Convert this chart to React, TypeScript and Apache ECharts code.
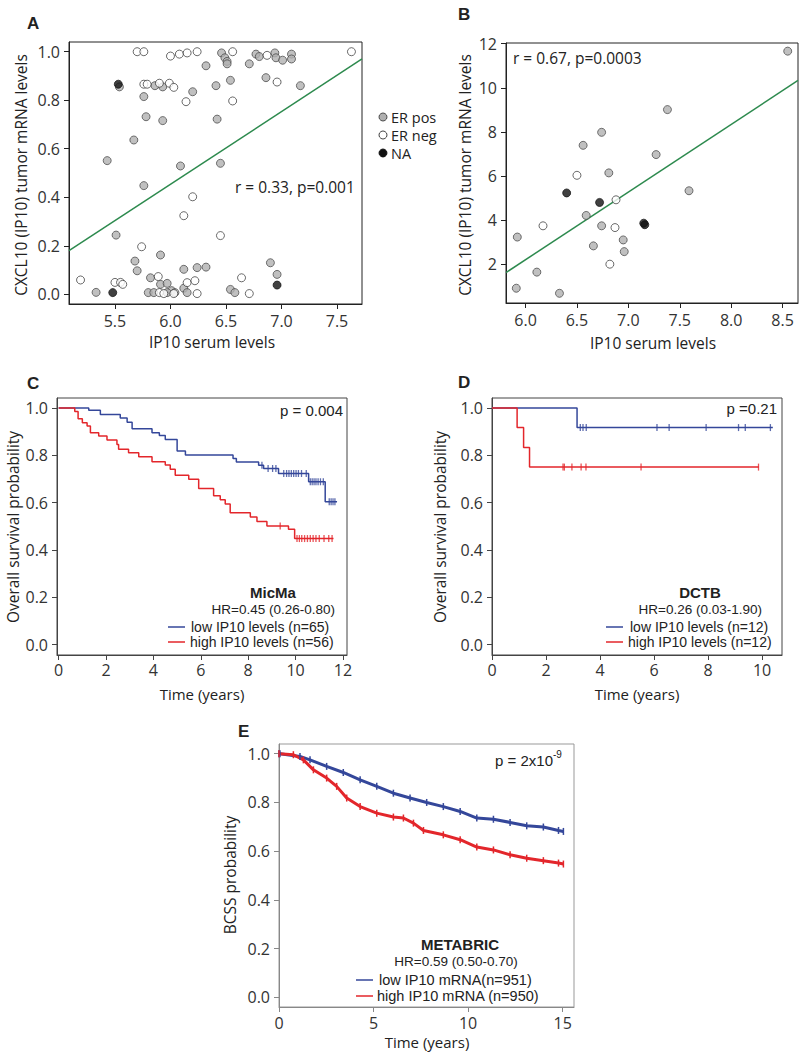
import React, { useEffect, useRef } from "react";
import * as echarts from "echarts";

// ---------- Panel A data (IP10 serum vs CXCL10 mRNA, MicMa) ----------
const aErPos: number[][] = [
  [6.32, 0.942], [6.46, 0.995], [6.49, 0.975], [6.51, 0.96], [6.51, 0.95], [6.71, 0.95], [6.77, 0.99], [6.8, 0.98],
  [6.94, 0.995], [6.95, 0.975], [7.01, 0.965], [7.09, 0.99], [7.09, 0.97],
  [5.54, 0.855], [5.86, 0.86], [5.93, 0.855], [6.2, 0.835], [6.41, 0.86], [6.54, 0.882], [6.86, 0.893], [7.17, 0.86],
  [5.76, 0.815], [5.78, 0.732], [5.93, 0.716], [6.42, 0.722], [5.67, 0.636], [5.43, 0.551], [6.09, 0.529], [6.45, 0.54],
  [5.76, 0.448], [5.51, 0.244], [5.91, 0.162], [5.68, 0.137], [5.7, 0.097], [6.12, 0.103], [6.24, 0.11], [6.32, 0.112],
  [6.9, 0.13], [6.96, 0.082], [5.82, 0.068], [5.91, 0.041], [5.97, 0.045], [6.12, 0.025], [6.01, 0.015], [5.33, 0.008],
  [5.8, 0.007], [5.85, 0.007], [5.97, 0.007], [6.04, 0.007], [6.15, 0.007], [6.54, 0.02], [6.58, 0.007],
];
const aErNeg: number[][] = [
  [5.7, 1.0], [5.76, 1.0], [6.0, 0.982], [6.08, 0.99], [6.15, 0.995], [6.24, 1.0], [6.56, 1.0], [6.87, 0.985], [7.63, 1.0],
  [5.76, 0.866], [5.79, 0.866], [5.9, 0.87], [5.99, 0.87], [6.03, 0.853], [6.96, 0.875], [6.14, 0.794], [6.56, 0.797],
  [6.2, 0.402], [6.12, 0.324], [6.45, 0.242], [5.74, 0.196], [5.19, 0.059], [6.64, 0.068], [5.5, 0.049], [5.55, 0.049],
  [5.57, 0.041], [5.89, 0.073], [6.15, 0.048], [6.22, 0.056], [5.9, 0.007], [5.94, 0.003], [6.03, 0.003], [6.24, 0.003],
  [6.71, 0.003],
];
const aNA: number[][] = [[5.53, 0.866], [6.96, 0.038], [5.48, 0.007]];
const aFit: number[][] = [[5.086, 0.18], [7.725, 0.97]];
const aTicksX = [5.5, 6.0, 6.5, 7.0, 7.5];
const probTicks = [0, 0.2, 0.4, 0.6, 0.8, 1.0];

// ---------- Panel B data (DCTB) ----------
const bErPos: number[][] = [
  [8.55, 11.66], [7.38, 9.01], [6.74, 7.98], [6.56, 7.39], [7.27, 6.97], [6.81, 6.14], [7.59, 5.33], [6.59, 4.21],
  [6.74, 3.74], [5.92, 3.23], [6.95, 3.1], [6.66, 2.83], [6.96, 2.57], [6.11, 1.64], [5.91, 0.91], [6.33, 0.68],
];
const bErNeg: number[][] = [[6.5, 6.03], [6.88, 4.92], [6.17, 3.74], [6.87, 3.66], [6.82, 2.0]];
const bNA: number[][] = [[6.4, 5.23], [6.72, 4.8], [7.15, 3.86], [7.16, 3.79]];
const bFit: number[][] = [[5.81, 1.62], [8.65, 10.33]];
const bTicksX = [6.0, 6.5, 7.0, 7.5, 8.0, 8.5];
const bTicksY = [2, 4, 6, 8, 10, 12];

// ---------- Panel C (MicMa KM) ----------
const cLow: number[][] = [
  [0, 1], [1.27, 0.99], [1.76, 0.972], [2.6, 0.958], [2.89, 0.94], [3.1, 0.912], [3.94, 0.895], [4.25, 0.884],
  [4.5, 0.867], [5.0, 0.818], [5.35, 0.801], [7.36, 0.786], [7.5, 0.772], [8.44, 0.758], [8.65, 0.744], [9.28, 0.723],
  [10.55, 0.688], [11.25, 0.604], [11.75, 0.604],
];
const cLowCens: number[][] = [
  [8.58, 0.758], [8.84, 0.744], [9.03, 0.744], [9.17, 0.744], [9.5, 0.723], [9.62, 0.723], [9.72, 0.723], [9.82, 0.723],
  [9.92, 0.723], [10.02, 0.723], [10.12, 0.723], [10.25, 0.723], [10.45, 0.723], [10.62, 0.688], [10.7, 0.688],
  [10.78, 0.688], [10.86, 0.688], [10.95, 0.688], [11.05, 0.688], [11.17, 0.688], [11.42, 0.604], [11.5, 0.604],
  [11.58, 0.604], [11.66, 0.604],
];
const cHigh: number[][] = [
  [0, 1], [0.68, 0.985], [0.82, 0.954], [1.0, 0.937], [1.2, 0.924], [1.34, 0.895], [1.69, 0.881], [2.04, 0.864],
  [2.46, 0.846], [2.53, 0.825], [2.95, 0.811], [3.38, 0.794], [3.94, 0.773], [4.5, 0.759], [4.71, 0.741], [4.92, 0.716],
  [5.49, 0.699], [5.91, 0.66], [6.54, 0.629], [6.82, 0.612], [7.03, 0.594], [7.24, 0.557], [8.09, 0.539], [8.37, 0.52],
  [8.79, 0.501], [9.7, 0.487], [9.96, 0.448], [11.6, 0.448],
];
const cHighCens: number[][] = [
  [9.35, 0.501], [10.06, 0.448], [10.16, 0.448], [10.26, 0.448], [10.38, 0.448], [10.5, 0.448], [10.62, 0.448],
  [10.74, 0.448], [10.86, 0.448], [11.0, 0.448], [11.2, 0.448], [11.4, 0.448], [11.54, 0.448],
];
const cTicksX = [0, 2, 4, 6, 8, 10, 12];

// ---------- Panel D (DCTB KM) ----------
const dLow: number[][] = [[0, 1], [3.15, 0.917], [10.4, 0.917]];
const dLowCens: number[][] = [
  [3.27, 0.917], [3.37, 0.917], [3.49, 0.917], [6.11, 0.917], [6.56, 0.917], [7.93, 0.917], [9.13, 0.917],
  [9.38, 0.917], [10.31, 0.917],
];
const dHigh: number[][] = [[0, 1], [0.93, 0.917], [1.17, 0.833], [1.39, 0.75], [9.88, 0.75]];
const dHighCens: number[][] = [
  [2.63, 0.75], [2.68, 0.75], [2.96, 0.75], [3.3, 0.75], [3.48, 0.75], [5.52, 0.75], [9.87, 0.75],
];
const dTicksX = [0, 2, 4, 6, 8, 10];

// ---------- Panel E (METABRIC BCSS) ----------
const eLow: number[][] = [
  [0, 1], [0.05, 1.0], [1.11, 0.989], [1.64, 0.975], [2.52, 0.948], [3.4, 0.923], [4.29, 0.893], [5.17, 0.866],
  [6.05, 0.838], [6.93, 0.818], [7.81, 0.8], [8.69, 0.783], [9.58, 0.763], [10.46, 0.736], [11.34, 0.731],
  [12.22, 0.718], [13.1, 0.704], [13.98, 0.699], [14.78, 0.685], [15.04, 0.681],
];
const eHigh: number[][] = [
  [0, 1], [0.76, 0.996], [1.29, 0.975], [1.82, 0.934], [2.52, 0.9], [3.05, 0.866], [3.58, 0.818], [4.29, 0.783],
  [5.17, 0.756], [6.05, 0.74], [6.58, 0.736], [7.11, 0.715], [7.64, 0.685], [8.69, 0.667], [9.58, 0.647],
  [10.46, 0.617], [11.34, 0.605], [12.22, 0.585], [13.1, 0.571], [13.98, 0.561], [14.78, 0.551], [15.04, 0.547],
];
const eTicksX = [0, 5, 10, 15];

const OPEN = '"Open Sans", "DejaVu Sans", sans-serif';
const ARIAL = '"Liberation Sans", Arial, sans-serif';
const BLUE = "#34479a";
const RED = "#e3262b";
const GREEN = "#2d8a4e";
const INK = "#222";

function axis(gi: number, min: number, max: number, ticks: number[], fmt: (v: number) => string, color: string, margin = 9) {
  return {
    type: "value", gridIndex: gi, min, max,
    axisLine: { show: true, onZero: false, lineStyle: { color, width: 1 } },
    axisTick: { show: true, customValues: ticks, length: 5, lineStyle: { color } },
    axisLabel: { customValues: ticks, formatter: fmt, margin, color: "#333", fontSize: 16, fontFamily: OPEN },
    splitLine: { show: false },
  };
}
const f1 = (v: number) => v.toFixed(1);
const f0 = (v: number) => String(Math.round(v));

function scat(name: string, gi: number, data: number[][], fill: string, stroke: string) {
  return {
    type: "scatter", name, xAxisIndex: gi, yAxisIndex: gi, data, symbol: "circle", symbolSize: 8,
    itemStyle: { color: fill, borderColor: stroke, borderWidth: 0.9 }, z: 3,
  };
}
function km(gi: number, data: number[][], color: string) {
  return {
    type: "line", xAxisIndex: gi, yAxisIndex: gi, data, step: "end", showSymbol: false,
    lineStyle: { color, width: 1.5 }, z: 3,
  };
}
function cens(gi: number, data: number[][], color: string) {
  return {
    type: "scatter", xAxisIndex: gi, yAxisIndex: gi, data, symbol: "rect", symbolSize: [1.3, 7],
    itemStyle: { color }, z: 4,
  };
}
function eLine(data: number[][], color: string) {
  return {
    type: "line", xAxisIndex: 4, yAxisIndex: 4, data, smooth: false, showSymbol: true, symbol: "rect",
    symbolSize: [1.5, 7], itemStyle: { color }, lineStyle: { color, width: 3 }, z: 3,
  };
}

function txt(text: string, x: number, y: number, size: number, opts: any = {}) {
  return {
    type: "text", x, y, rotation: opts.rotation || 0, z: 10,
    style: {
      text, fill: opts.fill || INK, font: `${opts.bold ? "bold " : ""}${size}px ${opts.family || OPEN}`,
      align: opts.align || "left", verticalAlign: "middle",
    },
  };
}
function keyLine(x1: number, x2: number, y: number, color: string) {
  return { type: "line", shape: { x1, y1: y, x2, y2: y }, style: { stroke: color, lineWidth: 1.5 }, z: 10 };
}

export default function App() {
  const ref = useRef<HTMLDivElement>(null);
  useEffect(() => {
    if (!ref.current) return;
    const chart = echarts.init(ref.current, undefined, { renderer: "svg" });
    const option: any = {
      animation: false,
      backgroundColor: "#fff",
      grid: [
        { left: 69, top: 42, width: 293, height: 262, show: true, borderColor: "#222", borderWidth: 1 },
        { left: 506, top: 43, width: 292, height: 260, show: true, borderColor: "#222", borderWidth: 1 },
        { left: 57, top: 398, width: 290, height: 257, show: true, borderColor: "#444", borderWidth: 1 },
        { left: 492, top: 398, width: 290, height: 257, show: true, borderColor: "#444", borderWidth: 1 },
        { left: 279, top: 744, width: 295, height: 263, show: true, borderColor: "#999", borderWidth: 1 },
      ],
      xAxis: [
        axis(0, 5.086, 7.725, aTicksX, f1, "#222"),
        axis(1, 5.81, 8.65, bTicksX, f1, "#222"),
        axis(2, -0.07, 12.17, cTicksX, f0, "#444", 7),
        axis(3, 0, 10.74, dTicksX, f0, "#444", 7),
        axis(4, 0, 15.6, eTicksX, f0, "#888", 8),
      ],
      yAxis: [
        axis(0, -0.04, 1.04, probTicks, f1, "#222"),
        axis(1, 0.24, 12.03, bTicksY, f0, "#222"),
        axis(2, -0.044, 1.042, probTicks, f1, "#444"),
        axis(3, -0.044, 1.042, probTicks, f1, "#444"),
        axis(4, -0.04, 1.04, probTicks, f1, "#888"),
      ],
      series: [
        { type: "line", xAxisIndex: 0, yAxisIndex: 0, data: aFit, showSymbol: false, lineStyle: { color: GREEN, width: 1.5 }, z: 2 },
        scat("ER pos", 0, aErPos, "#b0b0b0", "#404040"),
        scat("ER neg", 0, aErNeg, "#ffffff", "#303030"),
        scat("NA", 0, aNA, "#111111", "#111111"),
        { type: "line", xAxisIndex: 1, yAxisIndex: 1, data: bFit, showSymbol: false, lineStyle: { color: GREEN, width: 1.5 }, z: 2 },
        scat("ER pos", 1, bErPos, "#b0b0b0", "#404040"),
        scat("ER neg", 1, bErNeg, "#ffffff", "#303030"),
        scat("NA", 1, bNA, "#111111", "#111111"),
        km(2, cLow, BLUE), km(2, cHigh, RED), cens(2, cLowCens, BLUE), cens(2, cHighCens, RED),
        km(3, dLow, BLUE), km(3, dHigh, RED), cens(3, dLowCens, BLUE), cens(3, dHighCens, RED),
        eLine(eLow, BLUE), eLine(eHigh, RED),
      ],
      graphic: [
        // panel letters
        txt("A", 27, 23, 17, { bold: true, family: ARIAL }),
        txt("B", 458, 14, 17, { bold: true, family: ARIAL }),
        txt("C", 27, 383, 17, { bold: true, family: ARIAL }),
        txt("D", 458, 382, 17, { bold: true, family: ARIAL }),
        txt("E", 238, 731, 17, { bold: true, family: ARIAL }),
        // Panel A
        txt("CXCL10 (IP10) tumor mRNA levels", 21, 175, 15.5, { align: "center", rotation: Math.PI / 2 }),
        txt("IP10 serum levels", 212, 342, 15.5, { align: "center" }),
        txt("r = 0.33, p=0.001", 235, 187, 15.5),
        { type: "circle", shape: { cx: 383, cy: 117, r: 4 }, style: { fill: "#b0b0b0", stroke: "#404040", lineWidth: 0.9 }, z: 10 },
        { type: "circle", shape: { cx: 383, cy: 135, r: 4 }, style: { fill: "#fff", stroke: "#303030", lineWidth: 0.9 }, z: 10 },
        { type: "circle", shape: { cx: 383, cy: 153, r: 4 }, style: { fill: "#111", stroke: "#111", lineWidth: 0.9 }, z: 10 },
        txt("ER pos", 391, 117, 14.5),
        txt("ER neg", 391, 135, 14.5),
        txt("NA", 391, 153, 14.5),
        // Panel B
        txt("CXCL10 (IP10) tumor mRNA levels", 465, 175, 15.5, { align: "center", rotation: Math.PI / 2 }),
        txt("IP10 serum levels", 653, 343, 15.5, { align: "center" }),
        txt("r = 0.67, p=0.0003", 513, 58, 15.5),
        // Panel C
        txt("Overall survival probability", 13, 527, 15.5, { align: "center", rotation: Math.PI / 2 }),
        txt("Time (years)", 202, 694, 15, { align: "center" }),
        txt("p = 0.004", 343, 410, 15, { align: "right", family: ARIAL }),
        txt("MicMa", 273, 592, 15, { align: "center", bold: true, family: ARIAL }),
        txt("HR=0.45 (0.26-0.80)", 335, 609, 13.5, { align: "right", family: ARIAL }),
        keyLine(168, 185, 627, BLUE),
        keyLine(168, 185, 642, RED),
        txt("low IP10 levels (n=65)", 191, 627, 14, { family: ARIAL }),
        txt("high IP10 levels (n=56)", 190, 642, 14, { family: ARIAL }),
        // Panel D
        txt("Overall survival probability", 440, 527, 15.5, { align: "center", rotation: Math.PI / 2 }),
        txt("Time (years)", 637, 694, 15, { align: "center" }),
        txt("p =0.21", 777, 408, 15, { align: "right", family: ARIAL }),
        txt("DCTB", 700, 592, 15, { align: "center", bold: true, family: ARIAL }),
        txt("HR=0.26 (0.03-1.90)", 762, 609, 13.5, { align: "right", family: ARIAL }),
        keyLine(606, 623, 627, BLUE),
        keyLine(606, 623, 642, RED),
        txt("low IP10 levels (n=12)", 630, 627, 14, { family: ARIAL }),
        txt("high IP10 levels (n=12)", 628, 642, 14, { family: ARIAL }),
        // Panel E
        txt("BCSS probability", 230, 875, 15.5, { align: "center", rotation: Math.PI / 2 }),
        txt("Time (years)", 427, 1042, 15, { align: "center" }),
        txt("p = 2x10", 553, 760, 15, { align: "right", family: ARIAL }),
        txt("-9", 553, 754, 10, { family: ARIAL }),
        txt("METABRIC", 460, 944, 15, { align: "center", bold: true, family: ARIAL }),
        txt("HR=0.59 (0.50-0.70)", 456, 961, 13.5, { align: "center", family: ARIAL }),
        keyLine(356, 373, 980, BLUE),
        keyLine(356, 373, 996, RED),
        txt("low IP10 mRNA(n=951)", 379, 980, 14.5, { family: ARIAL }),
        txt("high IP10 mRNA (n=950)", 377, 996, 14.5, { family: ARIAL }),
      ],
    };
    chart.setOption(option);
    return () => chart.dispose();
  }, []);
  return <div ref={ref} style={{ position: "absolute", left: 0, top: 0, width: 800, height: 1053 }} />;
}
